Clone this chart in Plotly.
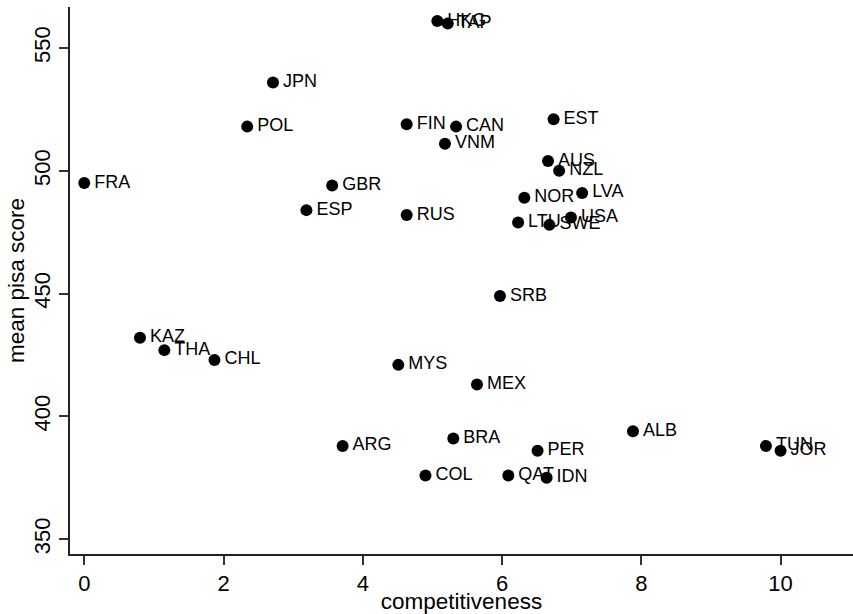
import plotly.graph_objects as go

countries = ["FRA", "JPN", "POL", "HKG", "TAP", "FIN", "CAN", "VNM", "EST", "AUS",
             "NZL", "LVA", "NOR", "RUS", "LTU", "SWE", "USA", "GBR", "ESP", "SRB",
             "KAZ", "THA", "CHL", "MYS", "MEX", "ARG", "COL", "BRA", "PER", "QAT",
             "IDN", "ALB", "TUN", "JOR"]
competitiveness = [0.0, 2.71, 2.34, 5.07, 5.22, 4.63, 5.34, 5.18, 6.74, 6.66,
                   6.82, 7.15, 6.32, 4.63, 6.23, 6.68, 6.99, 3.56, 3.19, 5.97,
                   0.80, 1.15, 1.87, 4.51, 5.64, 3.71, 4.90, 5.30, 6.51, 6.09,
                   6.64, 7.88, 9.79, 10.0]
pisa = [495, 536, 518, 561, 560, 519, 518, 511, 521, 504,
        500, 491, 489, 482, 479, 478, 481, 494, 484, 449,
        432, 427, 423, 421, 413, 388, 376, 391, 386, 376,
        375, 394, 388, 386]

x_ticks = [0, 2, 4, 6, 8, 10]
y_ticks = [350, 400, 450, 500, 550]

FONT = "Liberation Sans, Arial, Helvetica, sans-serif"

labels = ["\u200a" + c for c in countries]

fig = go.Figure(go.Scatter(
    x=competitiveness, y=pisa, mode="markers+text",
    text=labels, textposition="middle right",
    textfont=dict(family=FONT, size=18, color="black"),
    marker=dict(color="black", size=12),
    cliponaxis=False, hoverinfo="skip",
))

fig.update_layout(
    width=853, height=614,
    margin=dict(l=70, r=0, t=7, b=60),
    paper_bgcolor="white", plot_bgcolor="white",
    showlegend=False,
    font=dict(family=FONT, color="black"),
    xaxis=dict(
        range=[-0.205, 11.04], tickvals=x_ticks, ticks="outside", ticklen=9,
        tickcolor="#333", tickwidth=1.5, showline=True, linecolor="#222", linewidth=1.5,
        showgrid=False, zeroline=False, tickfont=dict(size=22, family=FONT),
        title=dict(text="competitiveness", font=dict(size=22.5, family=FONT), standoff=2),
        automargin=False,
    ),
    yaxis=dict(
        range=[344, 566.7], tickvals=y_ticks, ticks="outside", ticklen=9,
        tickcolor="#333", tickwidth=1.5, showline=True, linecolor="#222", linewidth=1.5,
        showgrid=False, zeroline=False, tickangle=-90, tickfont=dict(size=22, family=FONT),
        title=dict(text="mean pisa score", font=dict(size=22.5, family=FONT), standoff=0),
        automargin=False,
    ),
)

fig.write_html("out.html")
